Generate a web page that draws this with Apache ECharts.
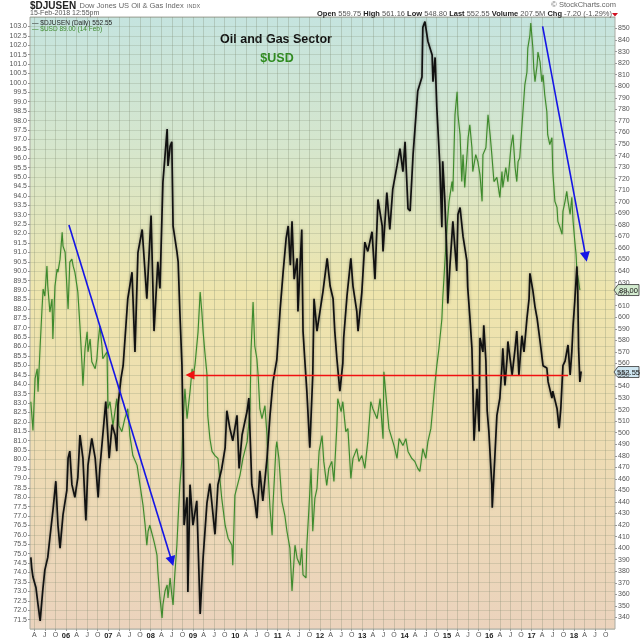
<!DOCTYPE html>
<html>
<head>
<meta charset="UTF-8">
<title>Oil and Gas Sector</title>
<script src="https://cdn.jsdelivr.net/npm/echarts@6/dist/echarts.min.js"></script>
<style>
html,body{margin:0;padding:0;background:#fff}
#main{width:640px;height:640px}
</style>
</head>
<body>
<div id="main"></div>
<script>
// $DJUSEN (right axis), dates as decimal years
var djDates = [
  2005.17,2005.19,2005.22,2005.29,2005.34,2005.39,2005.45,2005.50,2005.57,2005.62,
  2005.69,2005.76,2005.81,2005.86,2005.93,2006.02,2006.05,2006.09,2006.14,2006.21,
  2006.28,2006.33,2006.40,2006.47,2006.52,2006.61,2006.69,2006.76,2006.80,2006.87,
  2006.94,2007.02,2007.09,2007.16,2007.20,2007.23,2007.30,2007.35,2007.46,2007.56,
  2007.63,2007.70,2007.80,2007.91,2008.01,2008.08,2008.17,2008.22,2008.29,2008.39,
  2008.41,2008.46,2008.50,2008.53,2008.62,2008.65,2008.69,2008.74,2008.77,2008.79,
  2008.86,2008.88,2008.93,2009.00,2009.09,2009.17,2009.24,2009.33,2009.40,2009.52,
  2009.59,2009.68,2009.76,2009.80,2009.87,2009.94,2010.04,2010.09,2010.16,2010.28,
  2010.32,2010.39,2010.46,2010.51,2010.58,2010.65,2010.75,2010.82,2010.89,2010.98,
  2011.06,2011.13,2011.20,2011.25,2011.30,2011.34,2011.39,2011.46,2011.48,2011.57,
  2011.60,2011.64,2011.69,2011.76,2011.83,2011.86,2011.93,2012.00,2012.07,2012.17,
  2012.24,2012.31,2012.35,2012.40,2012.47,2012.54,2012.56,2012.64,2012.73,2012.78,
  2012.87,2012.90,2012.99,2013.06,2013.13,2013.23,2013.30,2013.37,2013.47,2013.49,
  2013.58,2013.65,2013.72,2013.82,2013.89,2013.96,2014.01,2014.08,2014.13,2014.20,
  2014.24,2014.31,2014.41,2014.43,2014.48,2014.55,2014.65,2014.67,2014.72,2014.76,
  2014.83,2014.88,2014.90,2014.95,2015.00,2015.02,2015.07,2015.14,2015.23,2015.26,
  2015.31,2015.38,2015.47,2015.49,2015.54,2015.59,2015.61,2015.64,2015.71,2015.76,
  2015.78,2015.85,2015.87,2015.92,2015.95,2015.99,2016.06,2016.07,2016.13,2016.18,
  2016.25,2016.30,2016.32,2016.37,2016.42,2016.44,2016.54,2016.61,2016.65,2016.70,
  2016.77,2016.82,2016.89,2016.94,2016.96,2017.03,2017.08,2017.13,2017.20,2017.27,
  2017.36,2017.39,2017.48,2017.50,2017.60,2017.65,2017.69,2017.74,2017.79,2017.86,
  2017.91,2017.95,2017.98,2018.02,2018.07,2018.09,2018.11,2018.14,2018.17
];
var djValues = [
  392,383,375,366,351,337,363,381,392,409,
  432,458,420,400,429,450,478,484,455,444,
  461,498,478,424,472,495,478,444,469,498,
  527,478,507,498,484,524,547,558,616,639,
  570,656,676,616,688,588,648,625,717,763,
  731,748,752,679,657,648,605,558,493,420,
  444,362,455,420,441,343,392,439,456,412,
  455,469,487,519,504,493,515,469,498,519,
  530,455,441,426,467,441,478,515,544,563,
  607,639,668,679,645,683,633,651,605,676,
  588,564,536,487,550,616,588,605,622,651,
  627,616,588,564,536,560,582,619,651,627,
  605,588,622,665,657,674,633,702,679,657,
  708,676,711,731,746,726,752,694,692,741,
  761,796,808,851,856,839,827,804,825,782,
  733,678,735,701,649,612,644,683,640,689,
  695,670,649,626,601,573,544,493,538,501,
  582,570,593,562,519,501,455,435,478,515,
  530,558,573,541,564,579,550,573,588,550,
  584,570,599,616,638,623,609,599,579,558,
  556,544,530,536,521,504,521,558,562,576,
  550,570,593,614,644,623,573,544,553
];

// $USD (left axis)
var usdDates = [
  2005.17,2005.22,2005.27,2005.32,2005.34,2005.39,2005.43,2005.46,2005.50,2005.55,
  2005.57,2005.62,2005.67,2005.69,2005.74,2005.79,2005.81,2005.86,2005.91,2005.93,
  2005.98,2006.02,2006.05,2006.09,2006.14,2006.17,2006.21,2006.26,2006.28,2006.33,
  2006.38,2006.40,2006.45,2006.50,2006.52,2006.57,2006.61,2006.69,2006.73,2006.76,
  2006.80,2006.85,2006.87,2006.97,2006.99,2007.04,2007.11,2007.20,2007.25,2007.32,
  2007.39,2007.46,2007.51,2007.58,2007.68,2007.75,2007.82,2007.87,2007.91,2007.94,
  2007.98,2008.06,2008.10,2008.15,2008.17,2008.22,2008.27,2008.29,2008.34,2008.39,
  2008.41,2008.46,2008.50,2008.53,2008.57,2008.62,2008.65,2008.69,2008.74,2008.76,
  2008.81,2008.86,2008.93,2008.98,2009.00,2009.05,2009.12,2009.17,2009.21,2009.24,
  2009.28,2009.33,2009.35,2009.40,2009.45,2009.52,2009.59,2009.68,2009.76,2009.83,
  2009.92,2009.94,2009.99,2010.11,2010.18,2010.28,2010.35,2010.37,2010.39,2010.42,
  2010.46,2010.51,2010.54,2010.58,2010.63,2010.70,2010.75,2010.77,2010.82,2010.87,
  2010.89,2010.96,2010.98,2011.03,2011.10,2011.17,2011.22,2011.29,2011.34,2011.41,
  2011.46,2011.53,2011.57,2011.60,2011.67,2011.69,2011.74,2011.79,2011.83,2011.88,
  2011.93,2011.98,2012.05,2012.09,2012.16,2012.21,2012.28,2012.33,2012.40,2012.42,
  2012.50,2012.54,2012.61,2012.66,2012.73,2012.78,2012.87,2012.92,2012.99,2013.06,
  2013.13,2013.20,2013.25,2013.35,2013.42,2013.49,2013.51,2013.58,2013.63,2013.70,
  2013.75,2013.82,2013.87,2013.96,2014.03,2014.08,2014.17,2014.24,2014.31,2014.36,
  2014.43,2014.50,2014.55,2014.62,2014.67,2014.72,2014.76,2014.81,2014.88,2014.90,
  2015.00,2015.05,2015.12,2015.14,2015.19,2015.24,2015.26,2015.31,2015.35,2015.38,
  2015.42,2015.47,2015.50,2015.54,2015.59,2015.61,2015.68,2015.73,2015.78,2015.83,
  2015.85,2015.92,2015.97,2016.02,2016.06,2016.11,2016.18,2016.25,2016.30,2016.32,
  2016.39,2016.44,2016.51,2016.56,2016.61,2016.65,2016.68,2016.72,2016.79,2016.84,
  2016.89,2016.91,2016.96,2016.98,2017.03,2017.05,2017.08,2017.13,2017.15,2017.20,
  2017.24,2017.27,2017.31,2017.36,2017.38,2017.43,2017.48,2017.50,2017.55,2017.60,
  2017.62,2017.67,2017.72,2017.74,2017.79,2017.83,2017.86,2017.91,2017.95,2017.98,
  2018.02,2018.05,2018.07,2018.11,2018.14
];
var usdValues = [
  83.07,81.54,84.29,84.82,83.60,86.03,87.83,89.05,88.68,90.27,
  89.21,87.83,88.52,86.40,89.21,90.11,89.95,90.64,92.07,91.33,
  91.01,89.21,87.99,90.48,90.64,90.27,89.95,89.21,88.89,87.09,
  84.98,83.92,85.88,86.78,85.72,86.40,85.19,84.82,85.35,86.25,
  87.09,86.03,85.35,85.72,82.70,83.07,81.80,83.23,81.80,81.48,
  82.17,82.70,81.27,80.21,79.69,78.63,77.57,76.51,75.45,76.19,
  76.51,75.82,75.45,74.92,74.08,72.65,71.59,72.28,73.02,73.34,
  72.65,73.71,72.81,72.28,73.87,75.45,76.88,78.63,80.06,81.80,
  83.76,82.17,83.60,84.82,84.29,85.08,86.78,88.89,87.83,86.78,
  85.72,84.55,82.33,81.11,80.43,80.21,80.06,77.94,76.51,75.82,
  75.45,74.39,78.10,79.16,80.06,80.95,82.70,85.72,86.78,88.36,
  86.03,85.35,84.45,82.70,82.17,82.86,81.27,79.53,77.41,75.98,
  77.57,80.58,80.95,80.06,77.78,77.04,76.19,75.29,73.02,75.45,
  74.76,74.39,75.29,73.87,73.71,75.45,77.41,79.53,76.19,77.94,
  78.47,80.43,81.27,79.90,78.63,79.53,79.90,78.84,81.80,83.23,
  82.54,83.07,81.48,81.64,79.00,80.06,80.58,79.90,80.21,79.53,
  80.95,83.07,82.70,82.17,83.23,81.11,84.66,82.86,81.64,81.11,
  80.74,80.06,81.11,80.74,81.11,80.43,80.06,79.90,79.53,79.37,
  80.58,80.06,80.95,81.64,82.86,84.13,84.98,85.88,87.46,88.52,
  92.33,93.71,94.76,94.23,98.31,99.53,98.31,97.25,94.76,96.19,
  94.45,96.03,97.09,97.78,96.56,95.29,96.19,95.82,95.13,93.71,
  96.19,96.56,98.31,97.25,96.19,94.76,94.98,93.92,95.29,94.45,
  95.51,94.76,96.56,97.25,95.51,94.76,95.82,96.03,98.31,99.90,
  100.58,101.85,102.54,103.18,101.85,100.80,100.06,100.96,101.64,101.11,
  100.06,100.43,99.37,98.47,97.25,96.72,97.09,95.29,93.71,93.39,
  92.65,92.33,91.96,93.18,93.71,94.24,93.71,93.02,93.92,92.65,
  91.59,90.90,90.00,89.47,89.00
];

// axis ticks: quarters of each year
var tickYears = [2005,2006,2007,2008,2009,2010,2011,2012,2013,2014,2015,2016,2017,2018];
var quarterLabels = ['', 'A', 'J', 'O'];

// annotations drawn on the chart (arrow from -> to)
var redArrow = [[2017.86, 550], [2008.93, 550]];        // right axis
var blueArrow1 = [[2006.07, 92.45], [2008.50, 74.6]];   // left axis
var blueArrow2 = [[2017.26, 103.0], [2018.28, 90.76]];  // left axis

var lastDj = 552.55;
var lastUsd = 89.00;

var xTickVals = [];
tickYears.forEach(function (y) {
  for (var q = 0; q < 4; q++) {
    var v = y + q * 0.25;
    if (v > 2005.15 && v < 2018.97) xTickVals.push(v);
  }
});

function zip(a, b) {
  var out = [];
  for (var i = 0; i < Math.min(a.length, b.length); i++) out.push([a[i], b[i]]);
  return out;
}

var FONT = 'Arial, "Liberation Sans", Helvetica, sans-serif';
var myChart = echarts.init(document.getElementById('main'));

var headerGraphics = [
  {type: 'text', id: 'hdrName', left: 30, top: 0, style: {
    text: '{t|$DJUSEN} {s|Dow Jones US Oil & Gas Index} {x|INDX}',
    rich: {
      t: {fontSize: 10, fontWeight: 'bold', fill: '#222', fontFamily: FONT},
      s: {fontSize: 7.5, fill: '#666', fontFamily: FONT},
      x: {fontSize: 5.5, fill: '#666', fontFamily: FONT}
    }
  }},
  {type: 'text', id: 'hdrDate', left: 30, top: 10, style: {text: '15-Feb-2018 12:55pm', fontSize: 7, fill: '#555', fontFamily: FONT}},
  {type: 'text', id: 'hdrCopy', right: 24, top: 1, style: {text: '\u00a9 StockCharts.com', fontSize: 7.5, fill: '#666', fontFamily: FONT}},
  {type: 'text', id: 'hdrQuote', right: 28, top: 10, style: {
    text: '{b|Open} 559.75 {b|High} 561.16 {b|Low} 548.80 {b|Last} 552.55 {b|Volume} 207.5M {b|Chg} -7.20 (-1.29%)',
    fontSize: 7.5, fill: '#555', fontFamily: FONT,
    rich: {b: {fontSize: 7.5, fontWeight: 'bold', fill: '#222', fontFamily: FONT}}
  }},
  {type: 'polygon', id: 'hdrDown', shape: {points: [[612, 13], [618, 13], [615, 16.5]]}, style: {fill: '#d01020'}},
  {type: 'text', id: 'lgDj', left: 32, top: 19.5, style: {
    text: '\u2014 $DJUSEN (Daily) 552.55', fontSize: 6.5, fill: '#222', fontFamily: FONT
  }},
  {type: 'text', id: 'lgUsd', left: 32, top: 26, style: {
    text: '\u2014 $USD 89.00 (14 Feb)', fontSize: 6.5, fill: '#3d8a2c', fontFamily: FONT
  }},
  {type: 'text', id: 'ttl', x: 276, y: 40, style: {
    text: 'Oil and Gas Sector', fontSize: 12.5, fontWeight: 'bold', fill: '#111',
    align: 'center', verticalAlign: 'middle', fontFamily: FONT
  }},
  {type: 'text', id: 'ttlSub', x: 277, y: 59, style: {
    text: '$USD', fontSize: 12.5, fontWeight: 'bold', fill: '#2e8b1e',
    align: 'center', verticalAlign: 'middle', fontFamily: FONT
  }}
];

var option = {
  animation: false,
  backgroundColor: '#ffffff',
  textStyle: {fontFamily: FONT},
  grid: {
    left: 30, right: 25, top: 17, bottom: 9,
    show: true,
    borderColor: '#a9aaa2',
    borderWidth: 1,
    backgroundColor: new echarts.graphic.LinearGradient(0, 0, 0, 1, [
      {offset: 0, color: '#c5e4df'},
      {offset: 0.22, color: '#d6e6cc'},
      {offset: 0.45, color: '#eee5ad'},
      {offset: 0.7, color: '#eedcb3'},
      {offset: 1, color: '#ebd3bd'}
    ])
  },
  xAxis: {
    type: 'value',
    min: 2005.15,
    max: 2018.97,
    axisLine: {show: false},
    axisTick: {show: true, customValues: xTickVals, length: 2, lineStyle: {color: '#999'}},
    splitLine: {show: true, lineStyle: {color: 'rgba(120,130,105,0.28)', width: 1}},
    axisLabel: {
      customValues: xTickVals,
      fontSize: 7,
      color: '#555',
      margin: 3,
      formatter: function (v) {
        var y = Math.floor(v + 1e-6);
        var q = Math.round((v - y) * 4);
        if (q === 0) return '{y|' + String(y).slice(2) + '}';
        return quarterLabels[q];
      },
      rich: {y: {fontWeight: 'bold', fontSize: 7.5, color: '#222'}}
    }
  },
  yAxis: [
    {
      type: 'value',
      position: 'left',
      min: 71,
      max: 103.5,
      interval: 0.5,
      axisLine: {show: false},
      axisTick: {show: true, length: 2, lineStyle: {color: '#999'}},
      axisLabel: {
        fontSize: 7, color: '#555', margin: 3,
        showMinLabel: false, showMaxLabel: false,
        formatter: function (v) { return v.toFixed(1); }
      },
      splitLine: {show: true, lineStyle: {color: 'rgba(120,130,105,0.22)', width: 1}}
    },
    {
      type: 'value',
      position: 'right',
      min: 330,
      max: 860,
      interval: 10,
      axisLine: {show: false},
      axisTick: {show: true, length: 2, lineStyle: {color: '#999'}},
      axisLabel: {
        fontSize: 7, color: '#555', margin: 3,
        showMinLabel: false, showMaxLabel: false
      },
      splitLine: {show: false}
    }
  ],
  series: [
    {
      name: '$USD',
      type: 'line',
      yAxisIndex: 0,
      showSymbol: false,
      lineStyle: {color: '#3d8a2c', width: 1.1, shadowColor: 'rgba(120,160,90,0.6)', shadowBlur: 2},
      data: zip(usdDates, usdValues),
      z: 2,
      markLine: {
        silent: true,
        symbol: ['none', 'triangle'],
        symbolSize: 10,
        label: {show: false},
        lineStyle: {color: '#1515e6', width: 1.6, type: 'solid', shadowBlur: 0},
        data: [
          [{coord: blueArrow1[0]}, {coord: blueArrow1[1]}],
          [{coord: blueArrow2[0]}, {coord: blueArrow2[1]}]
        ]
      }
    },
    {
      name: '$DJUSEN',
      type: 'line',
      yAxisIndex: 1,
      showSymbol: false,
      lineStyle: {color: '#111', width: 1.7, shadowColor: 'rgba(80,80,70,0.6)', shadowBlur: 3},
      data: zip(djDates, djValues),
      z: 3,
      markLine: {
        silent: true,
        symbol: ['none', 'triangle'],
        symbolSize: 9,
        label: {show: false},
        lineStyle: {color: '#f01010', width: 1.4, type: 'solid', shadowBlur: 0},
        data: [
          [{coord: redArrow[0]}, {coord: redArrow[1]}]
        ]
      }
    }
  ],
  graphic: headerGraphics
};

myChart.setOption(option);

// value tags on the right axis
function priceTag(id, y, text, fill) {
  return {
    type: 'group', id: id, x: 614, y: y, z: 100,
    children: [
      {type: 'polygon', shape: {points: [[0, 0], [4, -5.5], [25, -5.5], [25, 5.5], [4, 5.5]]},
        style: {fill: fill, stroke: '#333', lineWidth: 0.8}},
      {type: 'text', x: 14.5, y: 0.5, style: {text: text, fontSize: 7.5, fill: '#111',
        align: 'center', verticalAlign: 'middle', fontFamily: FONT}}
    ]
  };
}
var yUsd = myChart.convertToPixel({yAxisIndex: 0}, lastUsd);
var yDj = myChart.convertToPixel({yAxisIndex: 1}, lastDj);
myChart.setOption({
  graphic: headerGraphics.concat([
    priceTag('tagUsd', yUsd, lastUsd.toFixed(2), '#d4ecd0'),
    priceTag('tagDj', yDj, lastDj.toFixed(2), '#cfe7f2')
  ])
});
</script>
</body>
</html>
